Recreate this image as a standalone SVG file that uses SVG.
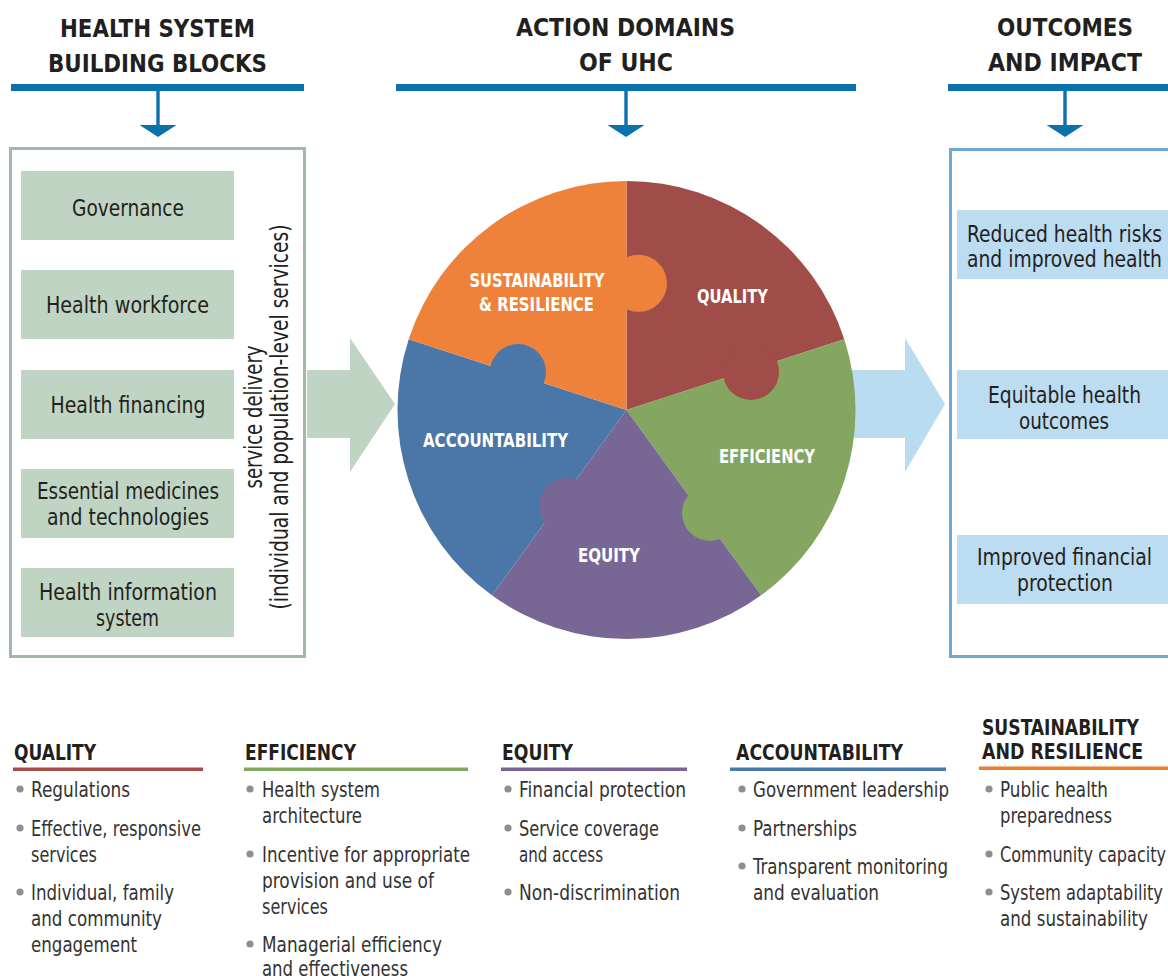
<svg xmlns="http://www.w3.org/2000/svg" width="1168" height="979" viewBox="0 0 1168 979">
<style>
text{font-family:"DejaVu Sans Condensed","Liberation Sans Narrow","Liberation Sans",sans-serif;}
.hd{font-size:25px;font-weight:bold;fill:#231f20;text-anchor:middle;}
.bx{font-size:23px;fill:#231f20;text-anchor:middle;}
.vt{font-size:24px;fill:#231f20;text-anchor:middle;}
.pz{font-size:19px;font-weight:bold;fill:#ffffff;text-anchor:middle;}
.lh{font-size:22px;font-weight:bold;fill:#231f20;}
.li{font-size:21.5px;fill:#333333;}
.bul{fill:#8d8e92;}
.bar{fill:#0b72ac;}
.gbox{fill:#c0d4c4;}
.bbox{fill:#bcdcf1;}
</style>
<defs>
<g id="downArrow"><rect x="-1.7" y="88" width="3.4" height="38" class="bar"/><polygon points="-18.5,125 18.5,125 0,137" class="bar"/></g>
</defs>
<rect width="1168" height="979" fill="#ffffff"/>

<g id="header-left">
<text class="hd" x="157.5" y="37" textLength="195" lengthAdjust="spacingAndGlyphs">HEALTH SYSTEM</text>
<text class="hd" x="157.5" y="72" textLength="219" lengthAdjust="spacingAndGlyphs">BUILDING BLOCKS</text>
<rect x="11" y="84" width="293" height="7" class="bar"/>
</g>
<g id="header-middle">
<text class="hd" x="625.5" y="36" textLength="219" lengthAdjust="spacingAndGlyphs">ACTION DOMAINS</text>
<text class="hd" x="626" y="71" textLength="94" lengthAdjust="spacingAndGlyphs">OF <tspan font-weight="900">UHC</tspan></text>
<rect x="396" y="84" width="460" height="7" class="bar"/>
</g>
<g id="header-right">
<text class="hd" x="1065" y="36" textLength="136" lengthAdjust="spacingAndGlyphs">OUTCOMES</text>
<text class="hd" x="1065" y="71" textLength="154" lengthAdjust="spacingAndGlyphs">AND IMPACT</text>
<rect x="948" y="84" width="220" height="7" class="bar"/>
</g>

<g id="connectors">
<use href="#downArrow" x="158" y="0"/>
<use href="#downArrow" x="626" y="0"/>
<use href="#downArrow" x="1065" y="0"/>
<polygon id="arrow-left" points="307,370 350,370 350,338 395,404 350,472 350,438 307,438" fill="#c0d4c4"/>
<polygon id="arrow-right" points="845,370 905,370 905,338 945,404 905,472 905,438 845,438" fill="#b9dcf0"/>
</g>

<g id="building-blocks">
<rect x="10.5" y="148.5" width="294" height="508" fill="none" stroke="#a3b8a5" stroke-width="3"/>
<rect x="21" y="171" width="213" height="69" class="gbox"/>
<text class="bx" x="128" y="216" textLength="112" lengthAdjust="spacingAndGlyphs">Governance</text>
<rect x="21" y="270" width="213" height="69" class="gbox"/>
<text class="bx" x="127.5" y="313" textLength="163" lengthAdjust="spacingAndGlyphs">Health workforce</text>
<rect x="21" y="370" width="213" height="69" class="gbox"/>
<text class="bx" x="128" y="413" textLength="155" lengthAdjust="spacingAndGlyphs">Health financing</text>
<rect x="21" y="469" width="213" height="69" class="gbox"/>
<text class="bx" x="128" y="499" textLength="182" lengthAdjust="spacingAndGlyphs">Essential medicines</text>
<text class="bx" x="128" y="525" textLength="162" lengthAdjust="spacingAndGlyphs">and technologies</text>
<rect x="21" y="568" width="213" height="69" class="gbox"/>
<text class="bx" x="128" y="600" textLength="178" lengthAdjust="spacingAndGlyphs">Health information</text>
<text class="bx" x="127.5" y="626" textLength="63" lengthAdjust="spacingAndGlyphs">system</text>
<g transform="translate(262,417) rotate(-90)">
<text class="vt" x="0" y="0" textLength="143" lengthAdjust="spacingAndGlyphs">service delivery</text>
<text class="vt" x="0" y="26" textLength="385" lengthAdjust="spacingAndGlyphs">(individual and population-level services)</text>
</g>
</g>

<g id="uhc-puzzle">
<path d="M626.5,410 L626.5,181 A229,229 0 0 1 844.3,339.2 Z" fill="#a04c48"/>
<path d="M626.5,410 L844.3,339.2 A229,229 0 0 1 761.1,595.3 Z" fill="#84a661"/>
<path d="M626.5,410 L761.1,595.3 A229,229 0 0 1 491.9,595.3 Z" fill="#786794"/>
<path d="M626.5,410 L491.9,595.3 A229,229 0 0 1 408.7,339.2 Z" fill="#4a77a7"/>
<path d="M626.5,410 L408.7,339.2 A229,229 0 0 1 626.5,181 Z" fill="#ee823a"/>
<circle cx="638.5" cy="283.3" r="28.5" fill="#ee823a"/>
<circle cx="751" cy="372" r="28" fill="#a04c48"/>
<circle cx="518" cy="372" r="28" fill="#4a77a7"/>
<circle cx="567" cy="506" r="28" fill="#786794"/>
<circle cx="710" cy="513" r="28" fill="#84a661"/>
<text class="pz" x="537" y="287" textLength="135" lengthAdjust="spacingAndGlyphs">SUSTAINABILITY</text>
<text class="pz" x="536.5" y="311" textLength="115" lengthAdjust="spacingAndGlyphs">&amp; RESILIENCE</text>
<text class="pz" x="732.5" y="303" textLength="71" lengthAdjust="spacingAndGlyphs">QUALITY</text>
<text class="pz" x="495.5" y="447" textLength="145" lengthAdjust="spacingAndGlyphs">ACCOUNTABILITY</text>
<text class="pz" x="767" y="463" textLength="96" lengthAdjust="spacingAndGlyphs">EFFICIENCY</text>
<text class="pz" x="609" y="562" textLength="62" lengthAdjust="spacingAndGlyphs">EQUITY</text>
</g>

<g id="outcomes">
<path d="M1170,149.5 L950.5,149.5 L950.5,656.5 L1170,656.5" fill="none" stroke="#6fa9d3" stroke-width="3"/>
<rect x="957" y="210" width="211" height="69" class="bbox"/>
<text class="bx" x="1064.5" y="242" textLength="195" lengthAdjust="spacingAndGlyphs">Reduced health risks</text>
<text class="bx" x="1064.5" y="267" textLength="195" lengthAdjust="spacingAndGlyphs">and improved health</text>
<rect x="957" y="370" width="211" height="69" class="bbox"/>
<text class="bx" x="1064.5" y="403" textLength="153" lengthAdjust="spacingAndGlyphs">Equitable health</text>
<text class="bx" x="1064" y="429" textLength="90" lengthAdjust="spacingAndGlyphs">outcomes</text>
<rect x="957" y="535" width="211" height="69" class="bbox"/>
<text class="bx" x="1064.5" y="565" textLength="175" lengthAdjust="spacingAndGlyphs">Improved financial</text>
<text class="bx" x="1065" y="591" textLength="96" lengthAdjust="spacingAndGlyphs">protection</text>
</g>

<g id="legend-quality">
<text class="lh" x="14" y="760" textLength="82" lengthAdjust="spacingAndGlyphs">QUALITY</text>
<rect x="13" y="767.5" width="190" height="3.5" fill="#a84b47"/>
<circle class="bul" cx="20" cy="789" r="3.6"/>
<text class="li" x="31" y="797" textLength="99" lengthAdjust="spacingAndGlyphs">Regulations</text>
<circle class="bul" cx="20" cy="828" r="3.6"/>
<text class="li" x="31" y="836" textLength="170" lengthAdjust="spacingAndGlyphs">Effective, responsive</text>
<text class="li" x="31" y="862" textLength="66" lengthAdjust="spacingAndGlyphs">services</text>
<circle class="bul" cx="20" cy="892" r="3.6"/>
<text class="li" x="31" y="900" textLength="143" lengthAdjust="spacingAndGlyphs">Individual, family</text>
<text class="li" x="31" y="926" textLength="131" lengthAdjust="spacingAndGlyphs">and community</text>
<text class="li" x="31" y="952" textLength="106" lengthAdjust="spacingAndGlyphs">engagement</text>
</g>
<g id="legend-efficiency">
<text class="lh" x="245" y="760" textLength="111" lengthAdjust="spacingAndGlyphs">EFFICIENCY</text>
<rect x="244" y="767.5" width="224" height="3.5" fill="#80a85a"/>
<circle class="bul" cx="250" cy="789" r="3.6"/>
<text class="li" x="262" y="797" textLength="118" lengthAdjust="spacingAndGlyphs">Health system</text>
<text class="li" x="262" y="823" textLength="100" lengthAdjust="spacingAndGlyphs">architecture</text>
<circle class="bul" cx="250" cy="854" r="3.6"/>
<text class="li" x="262" y="862" textLength="208" lengthAdjust="spacingAndGlyphs">Incentive for appropriate</text>
<text class="li" x="262" y="888" textLength="172" lengthAdjust="spacingAndGlyphs">provision and use of</text>
<text class="li" x="262" y="914" textLength="66" lengthAdjust="spacingAndGlyphs">services</text>
<circle class="bul" cx="250" cy="944" r="3.6"/>
<text class="li" x="262" y="952" textLength="180" lengthAdjust="spacingAndGlyphs">Managerial efficiency</text>
<text class="li" x="262" y="976" textLength="146" lengthAdjust="spacingAndGlyphs">and effectiveness</text>
</g>
<g id="legend-equity">
<text class="lh" x="502" y="760" textLength="71" lengthAdjust="spacingAndGlyphs">EQUITY</text>
<rect x="501" y="767.5" width="186" height="3.5" fill="#7a6497"/>
<circle class="bul" cx="508" cy="789" r="3.6"/>
<text class="li" x="519" y="797" textLength="167" lengthAdjust="spacingAndGlyphs">Financial protection</text>
<circle class="bul" cx="508" cy="828" r="3.6"/>
<text class="li" x="519" y="836" textLength="140" lengthAdjust="spacingAndGlyphs">Service coverage</text>
<text class="li" x="519" y="862" textLength="84" lengthAdjust="spacingAndGlyphs">and access</text>
<circle class="bul" cx="508" cy="892" r="3.6"/>
<text class="li" x="519" y="900" textLength="161" lengthAdjust="spacingAndGlyphs">Non-discrimination</text>
</g>
<g id="legend-accountability">
<text class="lh" x="736" y="760" textLength="167" lengthAdjust="spacingAndGlyphs">ACCOUNTABILITY</text>
<rect x="730" y="767.5" width="216" height="3.5" fill="#4a78aa"/>
<circle class="bul" cx="742" cy="789" r="3.6"/>
<text class="li" x="753" y="797" textLength="196" lengthAdjust="spacingAndGlyphs">Government leadership</text>
<circle class="bul" cx="742" cy="828" r="3.6"/>
<text class="li" x="753" y="836" textLength="104" lengthAdjust="spacingAndGlyphs">Partnerships</text>
<circle class="bul" cx="742" cy="866" r="3.6"/>
<text class="li" x="753" y="874" textLength="195" lengthAdjust="spacingAndGlyphs">Transparent monitoring</text>
<text class="li" x="753" y="900" textLength="126" lengthAdjust="spacingAndGlyphs">and evaluation</text>
</g>
<g id="legend-sustainability">
<text class="lh" x="982" y="735" textLength="157" lengthAdjust="spacingAndGlyphs">SUSTAINABILITY</text>
<text class="lh" x="982" y="759" textLength="161" lengthAdjust="spacingAndGlyphs">AND RESILIENCE</text>
<rect x="979" y="766.5" width="189" height="3.5" fill="#ee7d2e"/>
<circle class="bul" cx="989" cy="789" r="3.6"/>
<text class="li" x="1000" y="797" textLength="108" lengthAdjust="spacingAndGlyphs">Public health</text>
<text class="li" x="1000" y="823" textLength="112" lengthAdjust="spacingAndGlyphs">preparedness</text>
<circle class="bul" cx="989" cy="854" r="3.6"/>
<text class="li" x="1000" y="862" textLength="166" lengthAdjust="spacingAndGlyphs">Community capacity</text>
<circle class="bul" cx="989" cy="892" r="3.6"/>
<text class="li" x="1000" y="900" textLength="163" lengthAdjust="spacingAndGlyphs">System adaptability</text>
<text class="li" x="1000" y="926" textLength="148" lengthAdjust="spacingAndGlyphs">and sustainability</text>
</g>
</svg>
